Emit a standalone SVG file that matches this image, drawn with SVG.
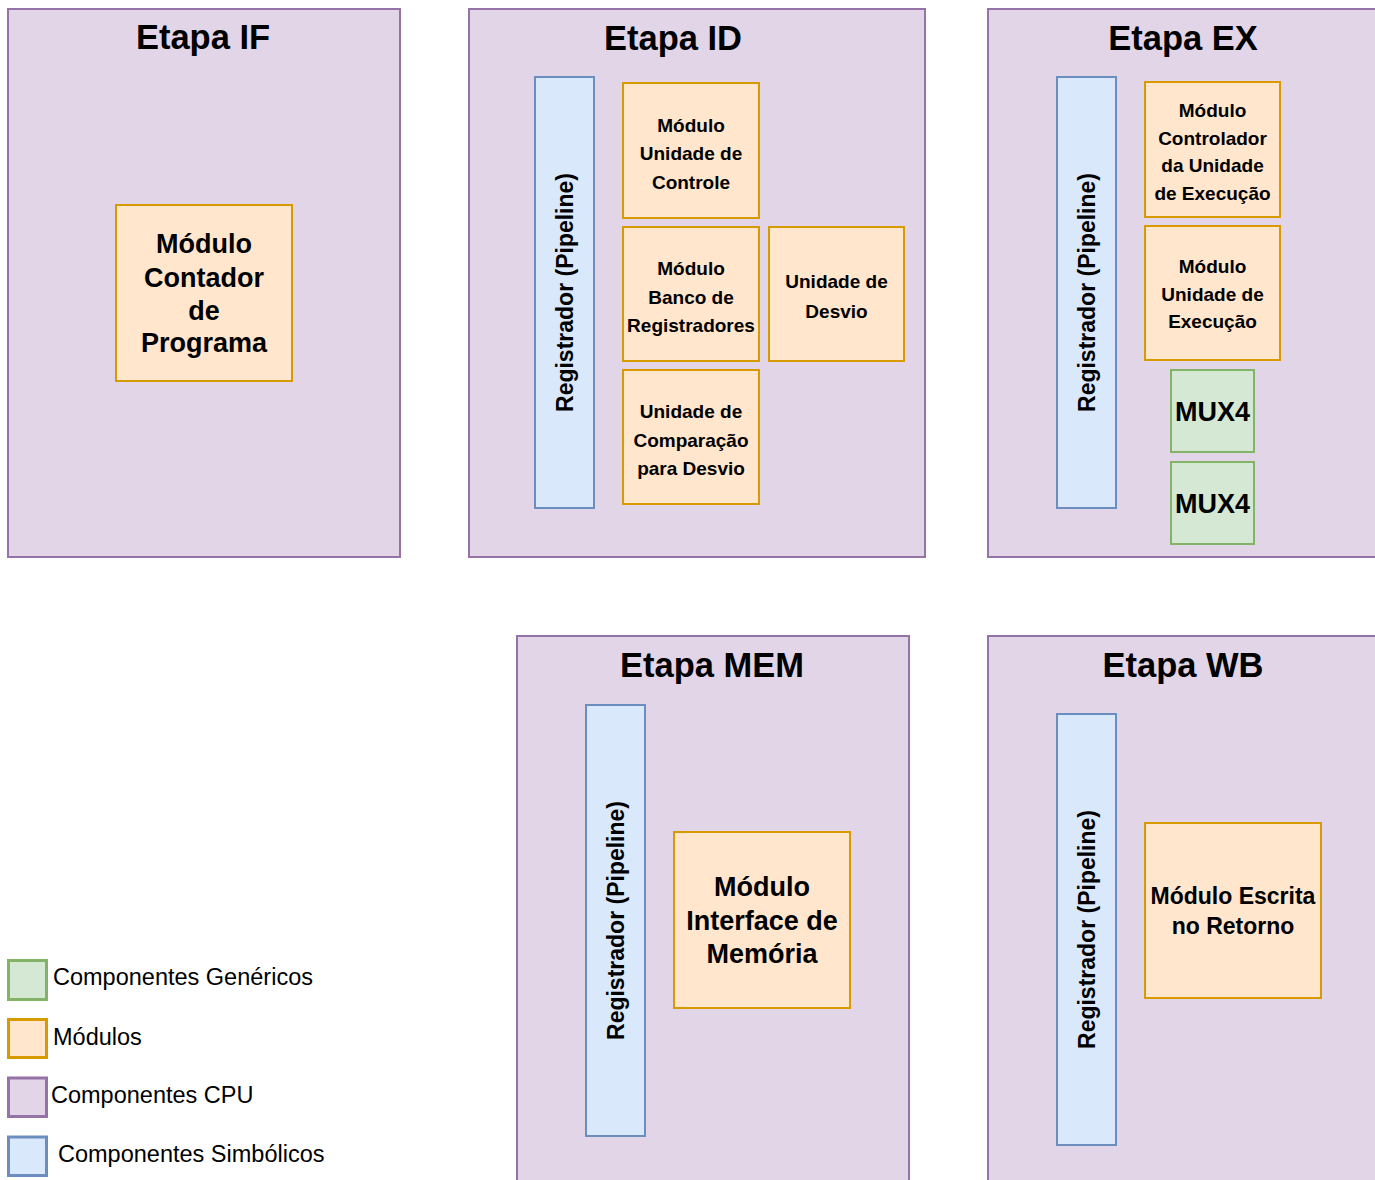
<svg xmlns="http://www.w3.org/2000/svg" width="1375" height="1180" viewBox="0 0 1375 1180">
<style>
text{font-family:"Liberation Sans",Arial,sans-serif;fill:#000;text-anchor:middle}
.stage{fill:#e1d5e7;stroke:#9673a6;stroke-width:2}
.mod{fill:#ffe6cc;stroke:#d79b00;stroke-width:2}
.reg{fill:#dae8fc;stroke:#6c8ebf;stroke-width:2}
.gen{fill:#d5e8d4;stroke:#82b366;stroke-width:2}
.title{font-size:34.5px;font-weight:bold}
.t19{font-size:19px;font-weight:bold}
.t27{font-size:27px;font-weight:bold}
.vt{font-size:23px;font-weight:bold}
.leg{font-size:23.5px;text-anchor:start}
.lg{stroke-width:3}
</style>
<rect width="1375" height="1180" fill="#ffffff"/>
<g id="stage-if">
<rect class="stage" x="8" y="9" width="392" height="548"/>
<text class="title" x="203" y="49">Etapa IF</text>
</g>
<g id="stage-id">
<rect class="stage" x="469" y="9" width="456" height="548"/>
<text class="title" x="673" y="50">Etapa ID</text>
</g>
<g id="stage-ex">
<rect class="stage" x="988" y="9" width="392" height="548"/>
<text class="title" x="1183" y="50">Etapa EX</text>
</g>
<g id="stage-mem">
<rect class="stage" x="517" y="636" width="392" height="560"/>
<text class="title" x="712" y="677">Etapa MEM</text>
</g>
<g id="stage-wb">
<rect class="stage" x="988" y="636" width="392" height="560"/>
<text class="title" x="1183" y="677">Etapa WB</text>
</g>
<g id="if-pc">
<rect class="mod" x="116" y="205" width="176" height="176"/>
<text class="t27" x="204" y="253">Módulo</text>
<text class="t27" x="204" y="287">Contador</text>
<text class="t27" x="204" y="320">de</text>
<text class="t27" x="204" y="352">Programa</text>
</g>
<g id="id-reg">
<rect class="reg" x="535" y="77" width="59" height="431"/>
<text class="vt" transform="translate(572.5 292.5) rotate(-90)">Registrador (Pipeline)</text>
</g>
<g id="id-uc">
<rect class="mod" x="623" y="83" width="136" height="135"/>
<text class="t19" x="691" y="131.5">Módulo</text>
<text class="t19" x="691" y="160">Unidade de</text>
<text class="t19" x="691" y="188.5">Controle</text>
</g>
<g id="id-br">
<rect class="mod" x="623" y="227" width="136" height="134"/>
<text class="t19" x="691" y="275">Módulo</text>
<text class="t19" x="691" y="303.5">Banco de</text>
<text class="t19" x="691" y="332">Registradores</text>
</g>
<g id="id-desvio">
<rect class="mod" x="769" y="227" width="135" height="134"/>
<text class="t19" x="836.5" y="288">Unidade de</text>
<text class="t19" x="836.5" y="318">Desvio</text>
</g>
<g id="id-comp">
<rect class="mod" x="623" y="370" width="136" height="134"/>
<text class="t19" x="691" y="418">Unidade de</text>
<text class="t19" x="691" y="446.5">Comparação</text>
<text class="t19" x="691" y="475">para Desvio</text>
</g>
<g id="ex-reg">
<rect class="reg" x="1057" y="77" width="59" height="431"/>
<text class="vt" transform="translate(1094.5 292.5) rotate(-90)">Registrador (Pipeline)</text>
</g>
<g id="ex-ctrl">
<rect class="mod" x="1145" y="82" width="135" height="135"/>
<text class="t19" x="1212.5" y="117">Módulo</text>
<text class="t19" x="1212.5" y="144.5">Controlador</text>
<text class="t19" x="1212.5" y="172">da Unidade</text>
<text class="t19" x="1212.5" y="199.5">de Execução</text>
</g>
<g id="ex-ue">
<rect class="mod" x="1145" y="226" width="135" height="134"/>
<text class="t19" x="1212.5" y="273">Módulo</text>
<text class="t19" x="1212.5" y="300.5">Unidade de</text>
<text class="t19" x="1212.5" y="328">Execução</text>
</g>
<g id="ex-mux1">
<rect class="gen" x="1171" y="370" width="83" height="82"/>
<text class="t27" x="1212.5" y="421">MUX4</text>
</g>
<g id="ex-mux2">
<rect class="gen" x="1171" y="462" width="83" height="82"/>
<text class="t27" x="1212.5" y="513">MUX4</text>
</g>
<g id="mem-reg">
<rect class="reg" x="586" y="705" width="59" height="431"/>
<text class="vt" transform="translate(623.5 920.5) rotate(-90)">Registrador (Pipeline)</text>
</g>
<g id="mem-if">
<rect class="mod" x="674" y="832" width="176" height="176"/>
<text class="t27" x="762" y="896">Módulo</text>
<text class="t27" x="762" y="930">Interface de</text>
<text class="t27" x="762" y="963">Memória</text>
</g>
<g id="wb-reg">
<rect class="reg" x="1057" y="714" width="59" height="431"/>
<text class="vt" transform="translate(1094.5 929.5) rotate(-90)">Registrador (Pipeline)</text>
</g>
<g id="wb-escrita">
<rect class="mod" x="1145" y="823" width="176" height="175"/>
<text style="font-size:23px;font-weight:bold" x="1233" y="903.5">Módulo Escrita</text>
<text style="font-size:23px;font-weight:bold" x="1233" y="933.5">no Retorno</text>
</g>
<g id="legend">
<rect class="gen lg" x="8.5" y="960.5" width="38" height="39"/>
<text class="leg" x="53" y="985">Componentes Genéricos</text>
<rect class="mod lg" x="8.5" y="1019.5" width="38" height="38"/>
<text class="leg" x="53" y="1045">Módulos</text>
<rect class="stage lg" x="8.5" y="1078" width="38" height="38.5"/>
<text class="leg" x="51" y="1103">Componentes CPU</text>
<rect class="reg lg" x="8.5" y="1137" width="38" height="38.5"/>
<text class="leg" x="58" y="1162">Componentes Simbólicos</text>
</g>
<g id="connectors"></g>
</svg>
